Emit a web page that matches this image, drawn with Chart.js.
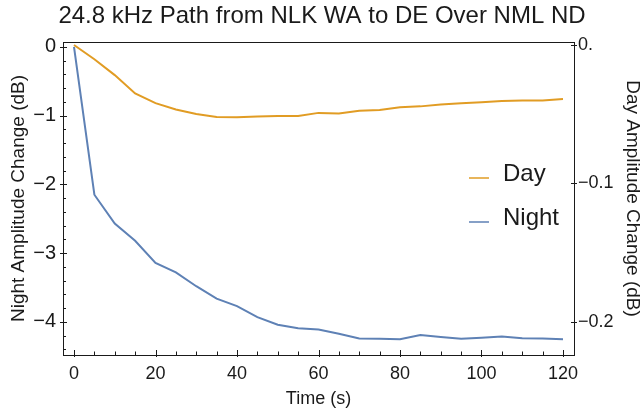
<!DOCTYPE html>
<html>
<head>
<meta charset="utf-8">
<script src="https://cdn.jsdelivr.net/npm/chart.js@4.4.1/dist/chart.umd.min.js"></script>
<style>
  html, body { margin: 0; padding: 0; background: #fff; }
  #wrap { width: 644px; height: 410px; }
</style>
</head>
<body>
<div id="wrap"><canvas id="amp-chart"></canvas></div>
<script>
// time axis (s)
const times = [0, 5, 10, 15, 20, 25, 30, 35, 40, 45, 50, 55, 60, 65, 70, 75, 80, 85, 90, 95, 100, 105, 110, 115, 120];
// night amplitude change (dB), left axis
const nightValues = [0, -2.15, -2.57, -2.82, -3.14, -3.28, -3.48, -3.66, -3.77, -3.93, -4.04, -4.09, -4.11, -4.17, -4.24, -4.245, -4.25, -4.19, -4.22, -4.245, -4.23, -4.21, -4.235, -4.24, -4.25];
// day amplitude change (dB), right axis
const dayValues = [0, -0.0103, -0.0217, -0.035, -0.042, -0.0465, -0.0498, -0.052, -0.0522, -0.0517, -0.0513, -0.0513, -0.049, -0.0494, -0.0474, -0.047, -0.045, -0.0443, -0.043, -0.042, -0.0414, -0.0405, -0.040, -0.040, -0.039];

const xTickValues = [0, 20, 40, 60, 80, 100, 120];
const nightTickValues = [-4, -3, -2, -1, 0];
const dayTickValues = [-0.2, -0.1, 0];

const FONT = '"Liberation Sans", Arial, sans-serif';
const INK = '#1a1a1a';
const DAY_COLOR = '#e19c24';
const NIGHT_COLOR = '#5e81b5';

function minus(v) {
    return v < 0 ? '\u2212' + Math.abs(v) : String(v);
}

// Mathematica-style inward frame ticks and the top frame line
const frameTicks = {
    id: 'frameTicks',
    afterDraw(chart) {
        const { ctx, chartArea: a, scales } = chart;
        ctx.save();
        ctx.strokeStyle = INK;
        ctx.lineWidth = 1;
        ctx.beginPath();
        ctx.moveTo(a.left, Math.round(a.top) + 0.5);
        ctx.lineTo(a.right, Math.round(a.top) + 0.5);
        for (let t = 0; t <= 120; t += 5) {
            const px = Math.round(scales.x.getPixelForValue(t)) + 0.5;
            const major = t % 20 === 0;
            ctx.moveTo(px, a.bottom + (major ? 2 : 0));
            ctx.lineTo(px, a.bottom - (major ? 5 : 3.5));
        }
        for (let i = -22; i <= 0; i++) {
            const v = i / 5;
            const py = Math.round(scales.y.getPixelForValue(v)) + 0.5;
            const major = i % 5 === 0;
            ctx.moveTo(a.left - (major ? 3 : 0), py);
            ctx.lineTo(a.left + (major ? 4 : 3), py);
        }
        dayTickValues.forEach(v => {
            const py = Math.round(scales.y2.getPixelForValue(v)) + 0.5;
            ctx.moveTo(a.right - 3, py);
            ctx.lineTo(a.right + 3, py);
        });
        ctx.stroke();
        ctx.restore();
    }
};

// legend drawn inside the plot, right side
const insideLegend = {
    id: 'insideLegend',
    afterDraw(chart) {
        const { ctx, chartArea: a } = chart;
        ctx.save();
        ctx.font = '24px ' + FONT;
        ctx.textBaseline = 'alphabetic';
        ctx.fillStyle = INK;
        chart.data.datasets.forEach((ds, i) => {
            const base = a.top + 139 + i * 44;
            ctx.strokeStyle = ds.borderColor;
            ctx.lineWidth = 1.5;
            ctx.beginPath();
            ctx.moveTo(a.right - 105, base - 3);
            ctx.lineTo(a.right - 85, base - 3);
            ctx.stroke();
            ctx.fillText(ds.label, a.right - 71, base);
        });
        ctx.restore();
    }
};

const ctx = document.getElementById('amp-chart').getContext('2d');
const ampChart = new Chart(ctx, {
    type: 'line',
    data: {
        datasets: [
            {
                label: 'Day',
                data: times.map((t, i) => ({ x: t, y: dayValues[i] })),
                yAxisID: 'y2',
                borderColor: DAY_COLOR,
                borderWidth: 2,
                pointRadius: 0,
                tension: 0,
                fill: false
            },
            {
                label: 'Night',
                data: times.map((t, i) => ({ x: t, y: nightValues[i] })),
                yAxisID: 'y',
                borderColor: NIGHT_COLOR,
                borderWidth: 2,
                pointRadius: 0,
                tension: 0,
                fill: false
            }
        ]
    },
    options: {
        responsive: true,
        maintainAspectRatio: false,
        animation: false,
        layout: { padding: 0 },
        plugins: {
            legend: { display: false },
            tooltip: { enabled: false },
            title: {
                display: true,
                text: '24.8 kHz Path from NLK WA to DE Over NML ND',
                color: INK,
                font: { family: FONT, size: 24, weight: 'normal' },
                padding: { top: 2, bottom: 11.2 }
            }
        },
        scales: {
            x: {
                type: 'linear',
                min: -2.7,
                max: 122.7,
                afterBuildTicks: s => { s.ticks = xTickValues.map(v => ({ value: v })); },
                afterFit: s => { s.height = 55; },
                grid: { display: false, drawTicks: false },
                border: { display: true, color: INK, width: 1 },
                ticks: {
                    color: INK,
                    padding: 8,
                    maxRotation: 0,
                    font: { family: FONT, size: 18 }
                },
                title: {
                    display: true,
                    text: 'Time (s)',
                    color: INK,
                    font: { family: FONT, size: 18 },
                    padding: { top: 0, bottom: 0 }
                }
            },
            y: {
                type: 'linear',
                position: 'left',
                min: -4.48,
                max: 0.07,
                afterBuildTicks: s => { s.ticks = nightTickValues.map(v => ({ value: v })); },
                afterFit: s => { s.width = 63; },
                grid: { display: false, drawTicks: false },
                border: { display: true, color: INK, width: 1 },
                ticks: {
                    color: INK,
                    padding: 7,
                    font: { family: FONT, size: 20 },
                    callback: v => minus(v)
                },
                title: {
                    display: true,
                    text: 'Night Amplitude Change (dB)',
                    color: INK,
                    font: { family: FONT, size: 19 },
                    padding: { top: 7, bottom: 0 }
                }
            },
            y2: {
                type: 'linear',
                position: 'right',
                min: -0.2239,
                max: 0.0022,
                afterBuildTicks: s => { s.ticks = dayTickValues.map(v => ({ value: v })); },
                afterFit: s => { s.width = 70; },
                grid: { display: false, drawTicks: false },
                border: { display: true, color: INK, width: 1 },
                ticks: {
                    color: INK,
                    padding: 4,
                    font: { family: FONT, size: 18 },
                    callback: v => v === 0 ? '0.' : '\u2212' + Math.abs(v).toFixed(1)
                },
                title: {
                    display: true,
                    text: 'Day Amplitude Change (dB)',
                    color: INK,
                    font: { family: FONT, size: 19 },
                    padding: { top: 0, bottom: 1 }
                }
            }
        }
    },
    plugins: [frameTicks, insideLegend]
});
</script>
</body>
</html>
